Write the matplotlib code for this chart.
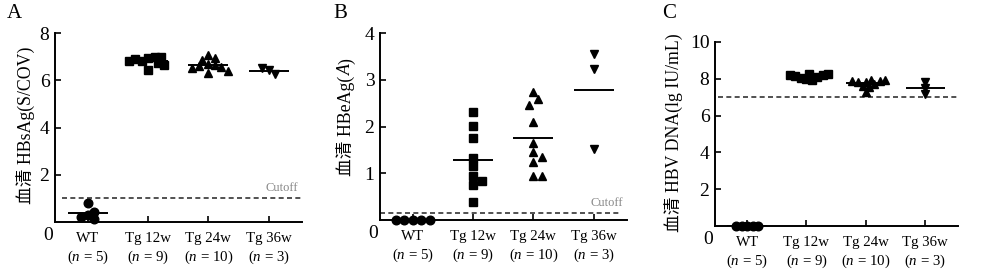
import numpy as np
import matplotlib
matplotlib.use("Agg")
import matplotlib.pyplot as plt

plt.rcParams['font.family'] = ['Liberation Serif', 'Noto Sans CJK SC']
plt.rcParams['mathtext.fontset'] = 'custom'
plt.rcParams['mathtext.rm'] = 'Liberation Serif'
plt.rcParams['mathtext.it'] = 'Liberation Serif:italic'

# =====================================================
# data
# =====================================================
groups = ["WT", "Tg 12w", "Tg 24w", "Tg 36w"]
group_n = [5, 9, 10, 3]
markers = ["o", "s", "^", "v"]

# A: 血清 HBsAg (S/COV)
a_wt = [0.81, 0.28, 0.14, 0.21, 0.43]
a_12w = [6.95, 7.0, 6.8, 6.75, 6.9, 6.45, 6.65, 7.0, 6.8]
a_24w = [7.05, 6.95, 6.85, 6.7, 6.65, 6.6, 6.55, 6.5, 6.3, 6.4]
a_36w = [6.45, 6.25, 6.5]
a_cutoff = 1.0

# B: 血清 HBeAg (A)
b_wt = [0.0, 0.0, 0.0, 0.0, 0.0]
b_12w = [2.32, 2.02, 1.75, 1.33, 1.15, 0.94, 0.83, 0.74, 0.39]
b_24w = [2.74, 2.59, 2.45, 2.09, 1.65, 1.45, 1.35, 1.25, 0.94, 0.94]
b_36w = [3.56, 3.24, 1.52]
b_cutoff = 0.15

# C: 血清 HBV DNA (lg IU/mL)
c_wt = [0.0, 0.0, 0.0, 0.0, 0.0]
c_12w = [8.0, 7.95, 8.05, 8.1, 8.15, 8.2, 8.2, 8.25, 8.25]
c_24w = [7.3, 7.55, 7.6, 7.7, 7.8, 7.85, 7.9, 7.9, 7.95, 7.95]
c_36w = [7.8, 7.2, 7.5]
c_cutoff = 7.0

W, H = 981, 272
fig = plt.figure(figsize=(W / 100, H / 100), dpi=100)


def px_axes(x0, x1, ytop, ybot):
    return fig.add_axes([x0 / W, 1 - ybot / H, (x1 - x0) / W, (ybot - ytop) / H])


def swarm(ax, values, center, d_px):
    # simple beeswarm: step half a marker sideways until no overlap
    placed = []
    out = []
    s = d_px / 2
    for v in values:
        cx, cy = ax.transData.transform((center, v))
        k = 0
        while True:
            step = (k + 1) // 2
            sign = 1 if k % 2 == 1 else -1
            px = cx + sign * step * s
            if all((px - qx) ** 2 + (cy - qy) ** 2 >= (0.95 * d_px) ** 2 for qx, qy in placed):
                break
            k += 1
        placed.append((px, cy))
        out.append(ax.transData.inverted().transform((px, cy))[0])
    return out


def rotated_label(x_px, y_center_px, pieces, size=12.8):
    # pieces: list of (text, style); drawn bottom-to-top on one baseline
    r = fig.canvas.get_renderer()
    lens = []
    objs = []
    for s, st in pieces:
        t = fig.text(0, 0, s, rotation=90, rotation_mode='anchor', ha='left', va='baseline',
                     fontsize=size, style=st)
        lens.append(t.get_window_extent(r).height)
        objs.append(t)
    y = y_center_px + sum(lens) / 2
    for t, L in zip(objs, lens):
        t.set_position((x_px / W, 1 - y / H))
        y -= L


def panel(ax, data, cutoff, ylim, yticks, cut_span, show_cut_text, letter, letter_px, d_px):
    ax.set_xlim(-0.54, 3.55)
    ax.set_ylim(*ylim)
    for sp in ["top", "right"]:
        ax.spines[sp].set_visible(False)
    for sp in ["left", "bottom"]:
        ax.spines[sp].set_linewidth(1.4)
    ax.set_yticks(yticks)
    ax.tick_params(axis='y', direction='in', length=4, width=1.2, labelsize=14, pad=4)
    ax.set_xticks(range(4))
    ax.set_xticklabels([f"{g}\n($\\mathit{{n}}$ = {n})" for g, n in zip(groups, group_n)],
                       fontsize=10.7, linespacing=1.35)
    ax.tick_params(axis='x', direction='in', length=4, width=1.2, pad=7)
    ax.annotate("0", xy=(0, 0), xycoords='axes fraction', xytext=(-7, -14),
                textcoords='offset pixels', ha='center', va='center', fontsize=14)

    ax.plot(cut_span, [cutoff, cutoff], ls=(0, (3, 2)), lw=1.2, color='#333333', zorder=1)
    if show_cut_text:
        ax.annotate("Cutoff", xy=(3.22, cutoff), xytext=(0, 4), textcoords='offset pixels',
                    ha='center', va='bottom', fontsize=9, color='#888888')

    for i, vals in enumerate(data):
        ms = 5.6 if markers[i] == 's' else 6.2
        xs = swarm(ax, vals, i, d_px)
        ax.plot(xs, vals, ls='none', marker=markers[i], ms=ms, color='black', zorder=3,
                clip_on=False)
        m = np.mean(vals)
        ax.hlines(m, i - 0.33, i + 0.33, color='black', lw=1.4, zorder=2)

    fig.text(letter_px[0] / W, 1 - letter_px[1] / H, letter, fontsize=15, ha='center', va='center')


axA = px_axes(55, 302, 33, 222)
panel(axA, [a_wt, a_12w, a_24w, a_36w], a_cutoff, (0, 8), [2, 4, 6, 8], [-0.42, 3.55],
      True, "A", (14, 13), 6.5)

axB = px_axes(380, 627, 33, 220)
panel(axB, [b_wt, b_12w, b_24w, b_36w], b_cutoff, (0, 4), [1, 2, 3, 4], [-0.54, 3.43],
      True, "B", (340, 13), 8.5)

axC = px_axes(715, 958, 42, 226)
panel(axC, [c_wt, c_12w, c_24w, c_36w], c_cutoff, (0, 10), [2, 4, 6, 8, 10], [-0.49, 3.55],
      False, "C", (669, 13), 5.5)

rotated_label(31, 125, [("血清 HBsAg(S/COV)", 'normal')])
rotated_label(351, 117, [("血清 HBeAg(", 'normal'), ("A", 'italic'), (")", 'normal')])
rotated_label(679, 133, [("血清 HBV DNA(lg IU/mL)", 'normal')])

fig.savefig("out.png", dpi=100)
